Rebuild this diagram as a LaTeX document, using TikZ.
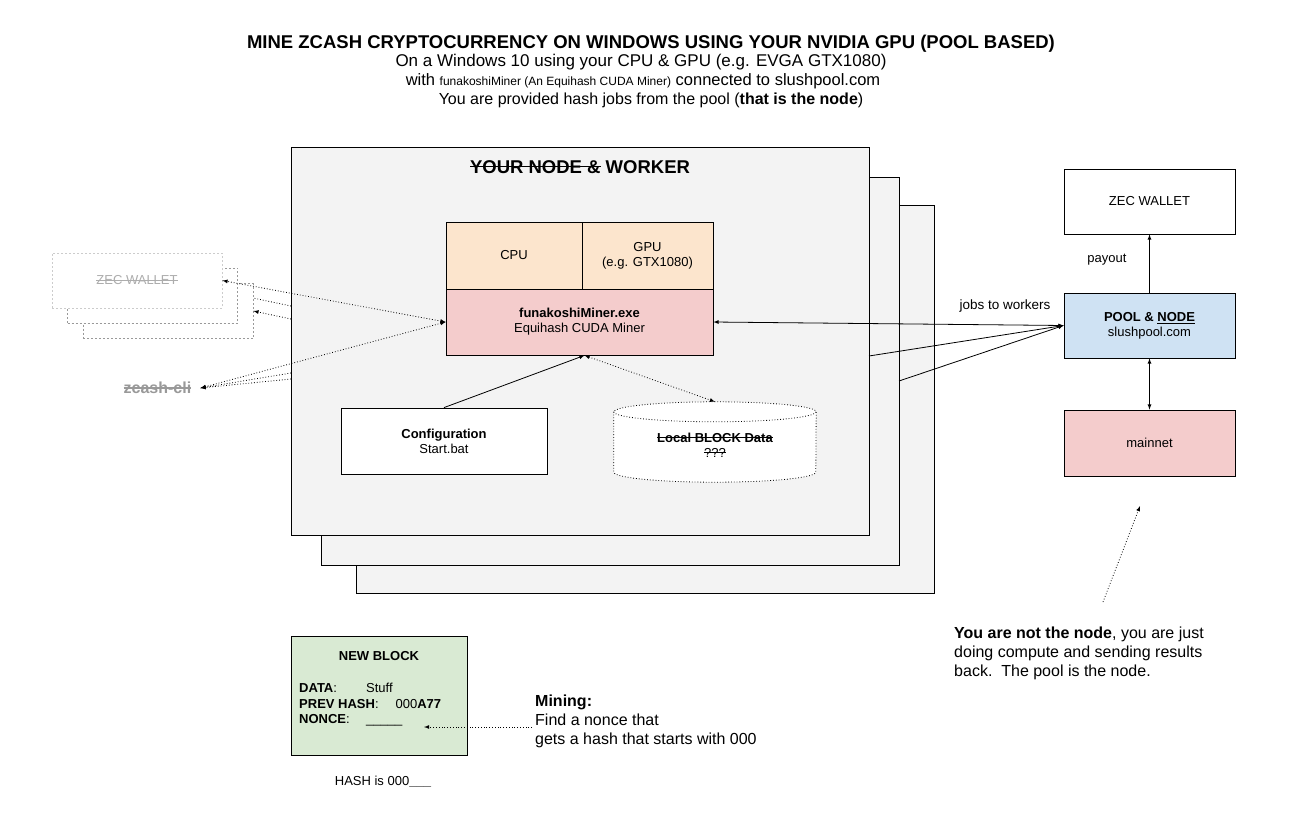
\documentclass[tikz,border=0pt]{standalone}
\usepackage{fontspec}
\setmainfont{Liberation Sans}
\newcommand{\strk}[1]{\leavevmode\setbox0\hbox{#1}\rlap{\rule[0.32em]{\wd0}{0.075em}}\box0\relax}
\definecolor{workergray}{HTML}{F3F3F3}
\definecolor{cpuorange}{HTML}{FCE5CD}
\definecolor{minerred}{HTML}{F4CCCC}
\definecolor{poolblue}{HTML}{CFE2F3}
\definecolor{blockgreen}{HTML}{D9EAD3}
\definecolor{ghostgray}{HTML}{999999}
\begin{document}
\begin{tikzpicture}[x=1pt, y=-1pt]
	\tikzset{box/.style = {draw, line width=0.8pt, align=center, inner sep=2pt, font=\fontsize{13}{15}\selectfont}}
	\tikzset{worker/.style = {box, fill=workergray, minimum width=578pt, minimum height=388pt}}
	\tikzset{ghost/.style = {box, draw=ghostgray, dash pattern=on 2pt off 2pt, fill=white, text=ghostgray, minimum width=170pt, minimum height=55pt}}
	\tikzset{link/.style = {->, > = latex, line width=0.8pt}}
	\tikzset{dotlink/.style = {link, dotted}}
	\tikzset{txt/.style = {inner sep=0pt, align=left, font=\fontsize{16}{19}\selectfont}}
	\useasboundingbox (0,0) rectangle (1302,827);
	% Title
	\node (title) at (651,44) {\fontsize{18.5}{21}\selectfont\bfseries MINE ZCASH CRYPTOCURRENCY ON WINDOWS USING YOUR NVIDIA GPU (POOL BASED)};
	\node[font=\fontsize{17}{19}\selectfont] (sub1) at (641,62) {On a Windows 10 using your CPU \& GPU (e.g. EVGA GTX1080)};
	\node[font=\fontsize{16.5}{19}\selectfont] (sub2) at (643,81) {with {\fontsize{12}{14}\selectfont funakoshiMiner (An Equihash CUDA Miner)} connected to slushpool.com};
	\node[font=\fontsize{16}{19}\selectfont] (sub3) at (651,100) {You are provided hash jobs from the pool (\textbf{that is the node})};
	% Workers
	\node[worker] (w3) at (645,399) {};
	\node[worker] (w2) at (610,371) {};
	\node[worker] (w1) at (580,341) {};
	\node[font=\fontsize{18.5}{21}\selectfont\bfseries] (wtitle) at (580,167) {\strk{YOUR NODE \&} WORKER};
	\node[box, fill=cpuorange, minimum width=136pt, minimum height=67pt] (cpu) at (514,255.5) {CPU};
	\node[box, fill=cpuorange, minimum width=131pt, minimum height=67pt] (gpu) at (647.5,255.5) {GPU\\(e.g. GTX1080)};
	\node[box, fill=minerred, minimum width=267pt, minimum height=66pt] (miner) at (579.5,322) {\textbf{funakoshiMiner.exe}\\Equihash CUDA Miner};
	\node[box, fill=white, minimum width=206pt, minimum height=66pt] (config) at (444,441) {\textbf{Configuration}\\Start.bat};
	% Local block data
	\node[minimum width=202pt, minimum height=80pt] (data) at (715,442) {};
	\draw[dotted, fill=white, line width=0.8pt] ([yshift=-10pt]data.north west) -- ([yshift=10pt]data.south west)
		arc[start angle=180, end angle=360, x radius=101pt, y radius=10pt] -- ([yshift=-10pt]data.north east)
		arc[start angle=0, end angle=180, x radius=101pt, y radius=10pt] -- cycle;
	\draw[dotted, line width=0.8pt] ([yshift=-10pt]data.north west) arc[start angle=180, end angle=360, x radius=101pt, y radius=10pt];
	\node[align=center, font=\fontsize{13}{15}\selectfont] (datatext) at (715,445) {\textbf{\strk{Local BLOCK Data}}\\\strk{???}};
	% Ghost wallets
	\node[ghost] (wal3) at (168,311) {};
	\node[ghost] (wal2) at (152.5,295.5) {};
	\node[ghost, draw=ghostgray!50, text=ghostgray!80] (wal1) at (137,280.5) {\strk{ZEC WALLET}};
	\node[text=ghostgray, font=\fontsize{16}{19}\selectfont\bfseries, inner sep=3pt] (zcash) at (157.5,388) {\strk{zcash-cli}};
	% Pool side
	\node[box, fill=white, minimum width=171pt, minimum height=65pt] (zecw) at (1149.5,201.5) {ZEC WALLET};
	\node[box, fill=poolblue, minimum width=171pt, minimum height=65pt] (pool) at (1149.5,325.5) {\textbf{POOL \& \underline{NODE}}\\slushpool.com};
	\node[box, fill=minerred, minimum width=171pt, minimum height=66pt] (mainnet) at (1149.5,443) {mainnet};
	\node[font=\fontsize{13.5}{15}\selectfont] (jobs) at (1005,306) {jobs to workers};
	\node[font=\fontsize{13}{15}\selectfont] (payout) at (1107,260) {payout};
	% New block
	\node[box, fill=blockgreen, minimum width=176pt, minimum height=119pt] (newblock) at (379,695.5) {};
	\node[font=\fontsize{13}{15}\selectfont\bfseries] (blocktitle) at (379,656) {NEW BLOCK};
	\node[anchor=west, inner sep=0pt, font=\fontsize{13}{15}\selectfont] (datarow) at (299,688) {\makebox[67pt][l]{\textbf{DATA}:}Stuff};
	\node[anchor=west, inner sep=0pt, font=\fontsize{13}{15}\selectfont] (prevrow) at (299,704) {\textbf{PREV HASH}:\hspace{17pt}000\textbf{A77}};
	\node[anchor=west, inner sep=0pt, font=\fontsize{13}{15}\selectfont] (noncerow) at (299,720) {\makebox[67pt][l]{\textbf{NONCE}:}\_\_\_\_\_};
	\node[font=\fontsize{13}{15}\selectfont] (hashline) at (383,782) {HASH is 000\textbf{\_\_\_}};
	\node[txt, anchor=west] (mining) at (535,721) {\textbf{Mining:}\\Find a nonce that\\gets a hash that starts with 000};
	\node[txt, anchor=west] (note) at (954,653) {\textbf{You are not the node}, you are just\\doing compute and sending results\\back.\ \ The pool is the node.};
	% Free ends
	\coordinate (side2) at (291,306);
	\coordinate (ghost2) at (253,298);
	\coordinate (side3) at (291,319);
	\coordinate (cli2) at (291,373);
	\coordinate (cli3) at (291,379);
	\coordinate (job2) at (869,356);
	\coordinate (job3) at (899,381);
	\coordinate (noncept) at (424,727);
	\coordinate (notetail) at (1103,602);
	\coordinate (notehead) at (1140,506);
	% Connectors
	\draw[dotlink, <->] (miner.west) to (wal1.east);
	\draw[dotted, line width=0.8pt] (side2) to (ghost2);
	\draw[dotlink] (side3) to (wal3.east);
	\draw[dotlink, <->] (miner.west) to ([xshift=6pt]zcash.east);
	\draw[dotlink] (cli2) to ([xshift=6pt]zcash.east);
	\draw[dotlink] (cli3) to ([xshift=6pt]zcash.east);
	\draw[link] (config.north) to ([xshift=5pt]miner.south);
	\draw[dotlink, <->] ([xshift=5pt]miner.south) to (data.north);
	\draw[link, <->] (pool.west) to (miner.east);
	\draw[link] (job2) to (pool.west);
	\draw[link] (job3) to (pool.west);
	\draw[link] (pool.north) to (zecw.south);
	\draw[link, <->] (pool.south) to (mainnet.north);
	\draw[dotlink] ([xshift=-3pt]mining.west |- noncept) to (noncept);
	\draw[dotlink] (notetail) to (notehead);
\end{tikzpicture}
\end{document}
